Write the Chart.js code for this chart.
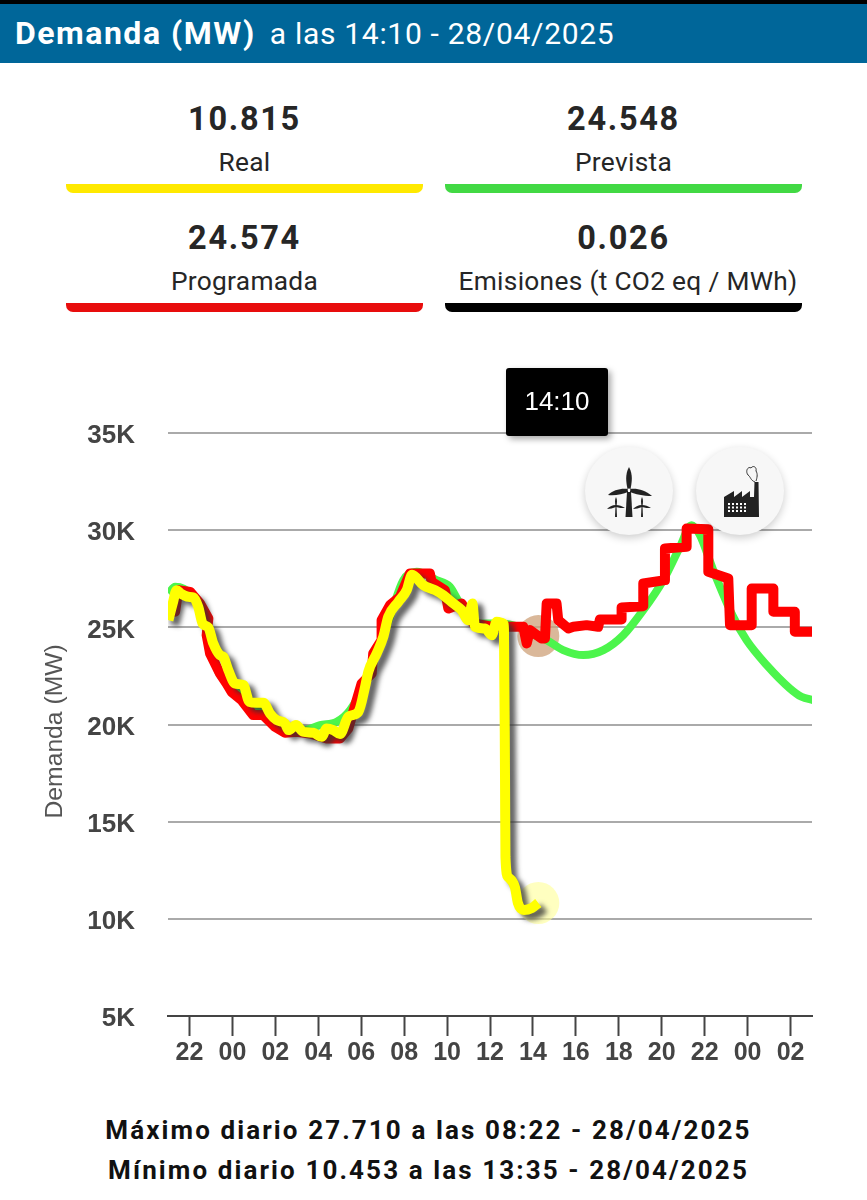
<!DOCTYPE html>
<html lang="es">
<head>
<meta charset="UTF-8">
<title>Demanda (MW)</title>
<script src="https://cdn.jsdelivr.net/npm/chart.js"></script>
<style>
    html, body { margin: 0; padding: 0; background: #fff; }
    body { width: 867px; height: 1200px; position: relative; overflow: hidden; font-family: Roboto, sans-serif; color: #262626; }
    #topbar { position: absolute; left: 0; top: 0; width: 867px; height: 4px; background: #000; }
    #header { position: absolute; left: 0; top: 4px; width: 867px; height: 59px; line-height: 58px; background: #006699; color: #fff; font-size: 30px; letter-spacing: 0.7px; white-space: nowrap; }
    #header b { margin-left: 15px; margin-right: 6px; font-size: 32px; letter-spacing: 1.5px; font-weight: 700; }
    .stat { position: absolute; width: 357px; text-align: center; }
    .stat .num { position: absolute; left: 0; right: 0; top: 0; font-size: 32.5px; font-weight: 700; line-height: 40px; letter-spacing: 1.7px; }
    .stat .lbl { position: absolute; left: -10px; right: -10px; top: 46px; font-size: 26.3px; line-height: 34px; letter-spacing: 0.3px; white-space: nowrap; }
    .stat .bar { position: absolute; left: 0; right: 0; top: 85px; height: 9px; border-radius: 0 0 7px 7px; }
    #chartBox { position: absolute; left: 0; top: 340px; width: 867px; height: 760px; }
    #timeTip { position: absolute; left: 506px; top: 368px; width: 102px; height: 68px; line-height: 66px; background: #000; color: #fff; text-align: center; font-family: "Liberation Sans", sans-serif; font-size: 26px; border-radius: 3px; box-shadow: 3px 3px 6px rgba(0,0,0,.35); }
    .fab { position: absolute; top: 447px; width: 88px; height: 88px; border-radius: 50%; background: #f7f7f7; box-shadow: 0 3px 8px rgba(0,0,0,.2); }
    .fab svg { position: absolute; left: 0; top: 0; }
    .foot { position: absolute; left: -5px; width: 867px; text-align: center; font-size: 26px; font-weight: 700; letter-spacing: 2.1px; color: #111; white-space: nowrap; }
</style>
</head>
<body>
    <div id="topbar"></div>
    <div id="header"><b>Demanda (MW)</b> a las 14:10 - 28/04/2025</div>

    <div class="stat" style="left:66px;top:99px"><div class="num">10.815</div><div class="lbl">Real</div><div class="bar" style="background:#ffe900"></div></div>
    <div class="stat" style="left:445px;top:99px"><div class="num">24.548</div><div class="lbl">Prevista</div><div class="bar" style="background:#42d944"></div></div>
    <div class="stat" style="left:66px;top:218px"><div class="num">24.574</div><div class="lbl">Programada</div><div class="bar" style="background:#e80d0d"></div></div>
    <div class="stat" style="left:445px;top:218px"><div class="num">0.026</div><div class="lbl" style="padding-left:9px">Emisiones (t CO2 eq / MWh)</div><div class="bar" style="background:#000"></div></div>

    <div id="chartBox"><canvas id="demandChart" width="867" height="760"></canvas></div>

    <div id="timeTip">14:10</div>

    <div class="fab" style="left:585px">
        <svg width="88" height="88" viewBox="0 0 88 88" fill="#222" stroke="none">
            <path d="M42 45 L46 45 L47.5 70 L40.5 70 Z"/>
            <path d="M44 20 C48 27 47 35 45.5 42 L42.5 42 C41 35 40 27 44 20 Z"/>
            <path d="M43 42 C36 41 28 43 23 48 C30 49 38 47 43 45 Z"/>
            <path d="M45 42 C52 41 60 43 67 49 C58 49 50 47 45 45 Z"/>
            <path d="M31 50 C32.5 53 32 56 31.5 59 L30.5 59 C30 56 29.5 53 31 50 Z"/>
            <path d="M30.5 59 L31.5 59 L32 70 L30 70 Z"/>
            <path d="M31 58 C27 58 24 60 22 62 C25 62 28 61 31 60 C34 61 37 61 40 61 C37 59 34 58 31 58 Z"/>
            <path d="M57 50 C58.5 53 58 56 57.5 59 L56.5 59 C56 56 55.5 53 57 50 Z"/>
            <path d="M56.5 59 L57.5 59 L58 70 L56 70 Z"/>
            <path d="M57 58 C53 58 50 60 48 62 C51 62 54 61 57 60 C60 61 63 61 66 61 C63 59 60 58 57 58 Z"/>
            <circle cx="44" cy="43" r="1.4" fill="#fff"/>
        </svg>
    </div>
    <div class="fab" style="left:696px">
        <svg width="88" height="88" viewBox="0 0 88 88">
            <path fill="#222" d="M28 70 L28 50 L38 44 L38 50 L46 44 L46 50 L54 44 L54 50 L58 50 L58.5 35 L62.5 35 L63 70 Z"/>
            <path fill="none" stroke="#333" stroke-width="1" d="M59 35 C54 33 55 30 52 28 C49 24 52 19 55 21 C57 18 61 20 60 24 C62 27 61 31 60 34"/>
            <path fill="none" stroke="#fff" stroke-width="2" stroke-dasharray="2 2" d="M32 57 H51 M32 60.5 H51 M32 64 H51"/>
        </svg>
    </div>

    <div class="foot" style="top:1115px">Máximo diario 27.710 a las 08:22 - 28/04/2025</div>
    <div class="foot" style="top:1155px">Mínimo diario 10.453 a las 13:35 - 28/04/2025</div>

    <script>
        // hours are counted from 00:00 of 28/04/2025
        const realHours = [-2.98, -2.78, -2.6, -2.41, -2.05, -1.82, -1.59, -1.39, -1.12, -0.89, -0.58, -0.42, -0.19, 0.12, 0.51, 0.79, 1.13, 1.44, 1.75, 2.06, 2.45, 2.61, 2.96, 3.3, 3.77, 4.16, 4.39, 4.7, 5.01, 5.4, 5.87, 6.18, 6.33, 6.72, 7.03, 7.26, 7.73, 8.12, 8.37, 8.89, 9.44, 9.82, 10.29, 10.68, 10.99, 11.18, 11.3, 11.77, 12.08, 12.31, 12.62, 12.65, 12.7, 12.72, 12.84, 13.16, 13.3, 13.58, 13.95, 14.25];
        const realValues = [25370, 26227, 26913, 26741, 26570, 26536, 26056, 25198, 24993, 24169, 23569, 23484, 22798, 22112, 22026, 21168, 21117, 21117, 20569, 20226, 20054, 19711, 19968, 19626, 19574, 19368, 19797, 19711, 19506, 20397, 20654, 21940, 22712, 23655, 24512, 25541, 26313, 26913, 27710, 27170, 26913, 26656, 26227, 25884, 25370, 26227, 25027, 24941, 24598, 25284, 25198, 24900, 17140, 13179, 12150, 11636, 10813, 10453, 10556, 10815];

        const programadaHours = [-2.91, -2.67, -2.52, -1.97, -1.51, -1.12, -1.2, -1.04, -0.58, -0.27, -0.04, 0.43, 0.97, 1.44, 1.98, 2.45, 2.99, 3.61, 4.39, 5.01, 5.4, 5.79, 6.02, 6.49, 6.56, 6.95, 6.95, 7.34, 7.81, 8.27, 9.2, 9.28, 9.9, 10.06, 10.68, 11.22, 12.16, 12.85, 13.55, 13.71, 13.86, 14.4, 14.56, 14.64, 15.1, 15.18, 15.65, 15.88, 16.5, 17.04, 17.12, 18.13, 18.13, 19.14, 19.14, 20.15, 20.15, 21.16, 21.16, 22.17, 22.17, 23.1, 23.18, 24.19, 24.19, 25.2, 25.2, 26.2, 26.2, 27.06];
        const programadaValues = [26056, 25798, 26913, 26827, 26227, 25455, 24598, 23655, 22626, 22112, 21683, 21254, 20483, 20483, 19883, 19574, 19626, 19540, 19283, 19283, 19797, 21254, 22112, 22626, 23655, 24341, 25370, 26141, 26570, 27770, 27770, 27342, 26913, 25970, 26227, 25198, 25027, 25027, 25027, 24170, 24856, 24427, 24427, 26228, 26228, 25370, 24941, 25027, 25113, 25027, 25404, 25404, 26022, 26090, 27256, 27428, 29057, 29143, 30086, 30051, 27857, 27514, 25113, 25113, 27000, 27000, 25799, 25799, 24770, 24770];

        const previstaHours = [-2.98, -2.67, -2.29, -1.67, -1.12, -0.81, 0.2, 1.13, 2.37, 3.3, 4.08, 4.86, 5.48, 6.1, 6.72, 7.34, 7.96, 8.58, 9.51, 10.13, 10.6, 11.53, 12.46, 13.39, 14.17, 14.64, 15.41, 16.35, 17.28, 18.21, 19.14, 20.07, 20.85, 21.39, 21.78, 22.4, 23.33, 23.95, 24.89, 25.97, 26.51, 27.06];
        const previstaValues = [26742, 27084, 26999, 26399, 24855, 23141, 21940, 20911, 19968, 19711, 19968, 20140, 20740, 21940, 23655, 25541, 27427, 27856, 27427, 27084, 26227, 25198, 25198, 24993, 24548, 24341, 23827, 23570, 23827, 24599, 25885, 27428, 29143, 30257, 29743, 27942, 25542, 24341, 23055, 21855, 21426, 21255];

        const nowHour = 14.25;
        const nowReal = 10815;
        const nowPrevista = 24548;
        const hourTicks = [-2, 0, 2, 4, 6, 8, 10, 12, 14, 16, 18, 20, 22, 24, 26];
        const hourLabels = ['22', '00', '02', '04', '06', '08', '10', '12', '14', '16', '18', '20', '22', '00', '02'];

        const toPoints = (xs, ys) => xs.map((x, i) => ({ x: x, y: ys[i] }));

        // grey drop shadow under the real demand line only
        const lineShadow = {
            id: 'lineShadow',
            beforeDatasetDraw(chart, args) {
                if (args.index !== 0) return;
                const c = chart.ctx;
                c.save();
                c.shadowColor = 'rgba(50,50,50,0.75)';
                c.shadowOffsetX = 6;
                c.shadowOffsetY = 5;
                c.shadowBlur = 5;
            },
            afterDatasetDraw(chart, args) {
                if (args.index === 0) chart.ctx.restore();
            }
        };

        new Chart(document.getElementById('demandChart').getContext('2d'), {
            type: 'line',
            data: {
                datasets: [
                    { label: 'Real', data: toPoints(realHours, realValues), borderColor: '#ffff00', borderWidth: 10, cubicInterpolationMode: 'monotone', borderJoinStyle: 'round', borderCapStyle: 'butt', pointRadius: 0, order: 1 },
                    { label: 'Programada', data: toPoints(programadaHours, programadaValues), borderColor: '#ff0000', borderWidth: 10, tension: 0, borderJoinStyle: 'round', pointRadius: 0, order: 2 },
                    { label: 'Prevista', data: toPoints(previstaHours, previstaValues), borderColor: '#4cf54c', borderWidth: 8, cubicInterpolationMode: 'monotone', pointRadius: 0, order: 3 },
                    { label: 'Real ahora', data: [{ x: nowHour, y: nowReal }], showLine: false, pointRadius: 21, pointBorderWidth: 0, pointBackgroundColor: 'rgba(255,255,150,0.6)', order: 4 },
                    { label: 'Prevista ahora', data: [{ x: nowHour, y: nowPrevista }], showLine: false, pointRadius: 21, pointBorderWidth: 0, pointBackgroundColor: 'rgba(205,160,120,0.75)', order: 4 }
                ]
            },
            options: {
                responsive: false,
                animation: false,
                events: [],
                layout: { padding: { top: 93, right: 55, left: 0, bottom: 0 } },
                plugins: { legend: { display: false }, tooltip: { enabled: false } },
                scales: {
                    x: {
                        type: 'linear',
                        min: -3,
                        max: 27,
                        afterFit: (s) => { s.height = 84; },
                        afterBuildTicks: (s) => { s.ticks = hourTicks.map((v) => ({ value: v })); },
                        border: { color: '#444', width: 2 },
                        grid: { drawOnChartArea: false, drawTicks: true, tickLength: 20, tickWidth: 2, tickColor: '#444' },
                        ticks: {
                            autoSkip: false,
                            maxRotation: 0,
                            padding: 2,
                            color: '#444',
                            font: { family: '"Liberation Sans"', size: 25, weight: 'bold' },
                            callback: (v) => hourLabels[hourTicks.indexOf(v)]
                        }
                    },
                    y: {
                        min: 5000,
                        max: 35000,
                        afterFit: (s) => { s.width = 168; },
                        border: { display: false },
                        grid: { color: '#aaaaaa', lineWidth: 2, drawTicks: false },
                        // two trailing spaces push the centred title a little down the axis
                        title: { display: true, text: 'Demanda (MW)  ', color: '#555', font: { family: '"Liberation Sans"', size: 24.7 }, padding: { top: 40, bottom: 0 } },
                        ticks: {
                            stepSize: 5000,
                            padding: 33,
                            color: '#444',
                            // empty first line nudges the label below its grid line
                            font: { family: '"Liberation Sans"', size: 26, weight: 'bold', lineHeight: 0.24 },
                            callback: (v) => ['', (v / 1000) + 'K']
                        }
                    }
                }
            },
            plugins: [lineShadow]
        });
    </script>
</body>
</html>
